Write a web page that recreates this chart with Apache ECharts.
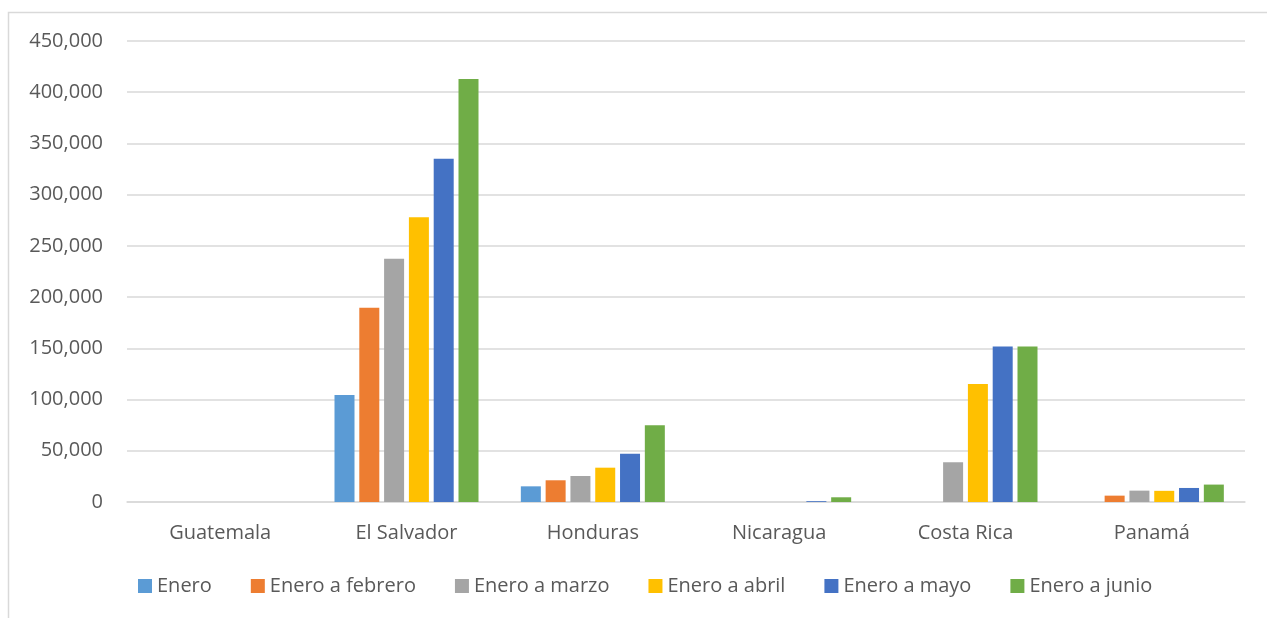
<!DOCTYPE html>
<html>
<head>
<meta charset="utf-8">
<script src="https://cdn.jsdelivr.net/npm/echarts@6/dist/echarts.min.js"></script>
<style>
html,body{margin:0;padding:0;background:#fff;}
#c{width:1267px;height:618px;}
</style>
</head>
<body>
<div id="c"></div>
<script>
const categories = ['Guatemala', 'El Salvador', 'Honduras', 'Nicaragua', 'Costa Rica', 'Panamá'];
const seriesNames = ['Enero', 'Enero a febrero', 'Enero a marzo', 'Enero a abril', 'Enero a mayo', 'Enero a junio'];
const enero         = [0, 104500, 15300, 0, 0, 0];
const eneroFebrero  = [0, 189500, 21200, 0, 0, 6200];
const eneroMarzo    = [0, 237500, 25400, 0, 38800, 11100];
const eneroAbril    = [0, 278000, 33500, 0, 115300, 10900];
const eneroMayo     = [0, 335000, 47200, 800, 151800, 13700];
const eneroJunio    = [0, 413000, 74900, 4600, 151800, 17000];
const yTicks = [0, 50000, 100000, 150000, 200000, 250000, 300000, 350000, 400000, 450000];
const colors = ['#5B9BD5', '#ED7D31', '#A5A5A5', '#FFC000', '#4472C4', '#70AD47'];

const allData = [enero, eneroFebrero, eneroMarzo, eneroAbril, eneroMayo, eneroJunio];
const font = '"Open Sans", "Noto Sans", sans-serif';

const chart = echarts.init(document.getElementById('c'));
chart.setOption({
  animation: false,
  backgroundColor: '#fff',
  color: colors,
  graphic: [{
    type: 'rect',
    shape: { x: 8.5, y: 12.5, width: 1270, height: 620 },
    style: { fill: 'none', stroke: '#d9d9d9', lineWidth: 1.5 },
    silent: true
  }],
  grid: { left: 127, right: 22, top: 41, bottom: 116 },
  legend: {
    bottom: 17,
    left: 133,
    itemWidth: 14,
    itemHeight: 14,
    itemGap: 39,
    icon: 'rect',
    textStyle: { color: '#595959', fontSize: 20, fontFamily: font },
    data: seriesNames
  },
  xAxis: {
    type: 'category',
    data: categories,
    axisLine: { lineStyle: { color: '#d9d9d9', width: 1.5 } },
    axisTick: { show: false },
    axisLabel: { color: '#595959', fontSize: 20, fontFamily: font, margin: 21 }
  },
  yAxis: {
    type: 'value',
    min: yTicks[0],
    max: yTicks[yTicks.length - 1],
    interval: 50000,
    axisLine: { show: false },
    axisTick: { show: false },
    splitLine: { lineStyle: { color: '#d9d9d9', width: 1.5 } },
    axisLabel: {
      color: '#595959', fontSize: 20, fontFamily: font, margin: 24,
      formatter: v => v.toLocaleString('en-US')
    }
  },
  series: seriesNames.map((n, i) => ({
    name: n,
    type: 'bar',
    data: allData[i],
    barWidth: 20,
    barGap: '24%',
    itemStyle: { color: colors[i] }
  }))
});
</script>
</body>
</html>
